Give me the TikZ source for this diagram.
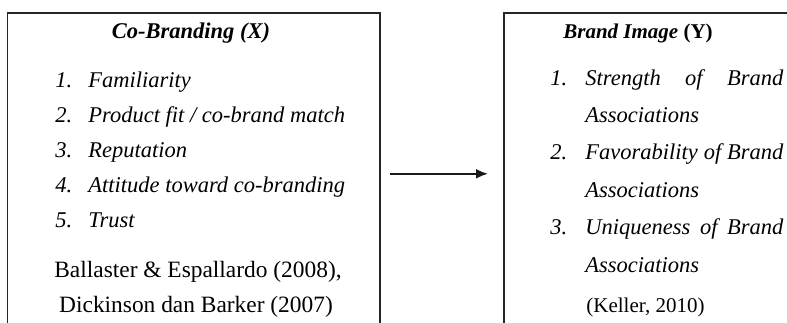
\documentclass[tikz,border=0pt]{standalone}
\usepackage{fontspec}
\setmainfont{Liberation Serif}
\usetikzlibrary{positioning,arrows.meta}

\newcommand{\bodysize}{\fontsize{11.25pt}{13.5pt}\selectfont}
\newcommand{\smallsize}{\fontsize{10.5pt}{12.5pt}\selectfont}

\tikzset{
    frame/.style={draw=black!85, line width=0.8pt, minimum width=#1, minimum height=161pt, inner sep=0pt, anchor=north west},
    head/.style={anchor=base, inner sep=0pt, font=\bodysize\bfseries},
    item/.style={anchor=base west, inner sep=0pt, font=\bodysize\itshape},
    cite/.style={inner sep=0pt, font=\fontsize{11.7pt}{14pt}\selectfont},
    link/.style={-{Latex[length=6pt,width=5pt]}, line width=1pt, black!90},
}

\begin{document}
\begin{tikzpicture}[x=0.5pt, y=-0.5pt]
        \useasboundingbox (0,0) rectangle (787,322);

        % --- Boxes ---
        \node[frame=186.25pt] (cobrand) at (6.5,12) {};
        \node[frame=150pt] (brandimg) at (503,12) {};

        % --- Left: Co-Branding (X) ---
        \node[head] (xtitle) at (191,38) {\textit{Co-Branding (X)}};
        \foreach \num/\txt [count=\k from 0] in {1/Familiarity,2/{Product fit / co-brand match},3/Reputation,4/Attitude toward co-branding,5/Trust}
        {
            \node[item] (xnum\num) at (55,{87+35*\k}) {\num.};
            \node[item] (xitem\num) at (88,{87+35*\k}) {\txt};
        }
        \node[cite, anchor=base] (xref1) at (198,277.5) {Ballaster \& Espallardo (2008),};
        \node[cite, anchor=base] (xref2) at (196,312.5) {Dickinson dan Barker (2007)};

        % --- Right: Brand Image (Y) ---
        \node[head, font=\smallsize\bfseries] (ytitle) at (638,38) {\textit{Brand Image} (Y)};
        \foreach \num/\txt/\j in {1/Strength of Brand/0,2/Favorability of Brand/2,3/Uniqueness of Brand/4}
        {
            \node[item] (ynum\num) at (550,{85+37.4*\j}) {\num.};
            \node[item] (yitem\num) at (585,{85+37.4*\j}) {\makebox[99pt][s]{\txt}};
            \node[item] (yassoc\num) at (585,{85+37.4*(\j+1)}) {Associations};
        }
        \node[cite, anchor=base west, font=\smallsize] (yref) at (586,312) {(Keller, 2010)};

        % --- Arrow ---
        \draw[link] ([xshift=4.5pt]cobrand.east) -- ([xshift=-7.5pt]brandimg.west);
    \end{tikzpicture}
\end{document}
